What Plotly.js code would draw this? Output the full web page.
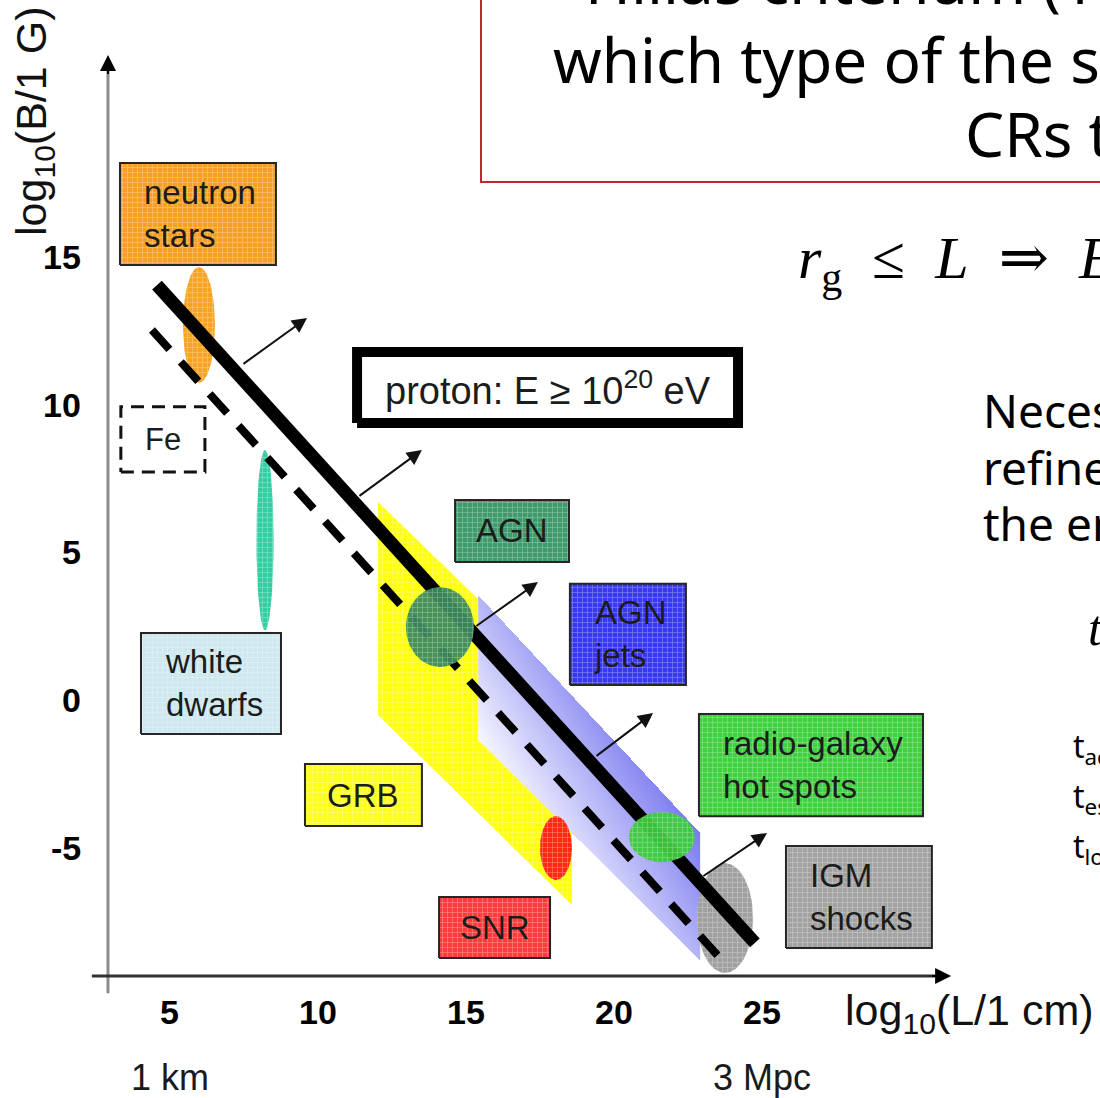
<!DOCTYPE html>
<html>
<head>
<meta charset="utf-8">
<script src="https://cdn.plot.ly/plotly-3.0.1.min.js"></script>
<style>
  html, body { margin: 0; padding: 0; background: #ffffff; }
  #chart { width: 1100px; height: 1098px; }
</style>
</head>
<body>
<div id="chart"></div>
<script>
// ---------------- Hillas diagram: log10(L / 1 cm) vs log10(B / 1 G) ----------------

// Axis ticks and scale notes
const xTickVals = [5, 10, 15, 20, 25];
const yTickVals = [15, 10, 5, 0, -5];
const scaleNotes = ['1 km', '3 Mpc'];
const scaleNoteL = [5, 25];

// Source classes shown as labelled boxes (extent in log10 L and log10 B)
const boxLabels = ['neutron<br>stars', 'white<br>dwarfs', 'AGN', 'AGN<br>jets', 'GRB', 'SNR', 'radio-galaxy<br>hot spots', 'IGM<br>shocks'];
const boxL0 = [3.31, 4.02, 14.63, 18.51, 9.56, 14.09, 22.87, 25.81];
const boxL1 = [8.58, 8.75, 18.48, 22.43, 13.51, 17.84, 30.44, 30.74];
const boxB0 = [14.72, -1.15, 4.67, 0.51, -4.26, -8.73, -3.93, -8.39];
const boxB1 = [18.17, 2.27, 6.77, 3.93, -2.17, -6.67, -0.47, -4.94];
const boxColors = ['#f5a024', '#cde8ee', '#3f9b6c', '#3838f2', '#ffff1e', '#ff3c3c', '#40d040', '#a2a2a2'];

// Source classes shown as ellipses (centre and half-extent)
const ellNames = ['neutron stars', 'white dwarfs', 'AGN', 'SNR', 'radio-galaxy hot spots', 'IGM shocks'];
const ellL = [5.98, 8.21, 14.12, 18.04, 21.62, 23.75];
const ellB = [12.69, 5.41, 2.47, -5.01, -4.64, -7.38];
const ellDL = [0.54, 0.29, 1.15, 0.54, 1.11, 0.95];
const ellDB = [1.96, 3.05, 1.35, 1.08, 0.85, 1.86];
const ellColors = ['#f7a325', '#33cfa2', '#3a8a5c', '#ff2a10', '#3dcc3d', '#a0a0a0'];
const ellAbove = [false, false, true, false, true, false];

// GRB band (vertical sides at grbL)
const grbL = [12.03, 18.58];
const grbTop = [6.70, 0.34];
const grbBot = [-0.51, -6.94];

// AGN-jet band (vertical sides at jetL)
const jetL = [15.41, 22.91];
const jetTop = [3.55, -4.50];
const jetBot = [-1.35, -8.80];

// Maximum-energy conditions: proton (solid) and iron (dashed)
const protonL = [4.56, 24.76];
const protonB = [14.04, -8.22];
const ironL = [4.39, 23.58];
const ironB = [12.52, -8.73];

// Arrows pointing to the allowed side of the proton line
const arrowL0 = [7.43, 11.35, 15.30, 19.36, 22.97];
const arrowB0 = [11.34, 6.87, 2.47, -1.93, -5.99];
const arrowL1 = [9.63, 13.51, 17.43, 21.32, 25.17];
const arrowB1 = [12.93, 8.46, 3.99, -0.44, -4.50];

// Legend boxes for the two conditions
const feBoxL = [3.34, 6.18];
const feBoxB = [7.72, 9.92];
const protonBoxL = [11.32, 24.19];
const protonBoxB = [9.37, 11.78];

// ---------------- frame ----------------
const W = 1100, H = 1098;
const X_RANGE = [-0.743, 36.419];
const Y_RANGE = [-13.469, 23.689];
const AXIS_L = 2.905, AXIS_B_LOW = -9.92, AXIS_B_TOP = 21.83;
const AXIS_X_B = -9.34, AXIS_X_L0 = 2.36, AXIS_X_L1 = 31.39;

const SANS = 'Liberation Sans, Arial, sans-serif';
const SLIDE = 'Noto Sans, DejaVu Sans, sans-serif';
const SERIF = 'Liberation Serif, DejaVu Serif, serif';
const NB = '\u00A0';

const px = v => v / W;
const py = v => 1 - v / H;

function lerp(xs, ys, x) {
  return ys[0] + (ys[1] - ys[0]) * (x - xs[0]) / (xs[1] - xs[0]);
}
function mix(hex, t) {
  const n = parseInt(hex.slice(1), 16);
  const c = [(n >> 16) & 255, (n >> 8) & 255, n & 255].map(v => Math.round(v + (255 - v) * t));
  return 'rgb(' + c.join(',') + ')';
}
function textured(xs, ys, color, lineW, lineC, opacity) {
  return {
    type: 'scatter', mode: 'lines', x: xs, y: ys,
    fill: 'toself', fillcolor: color,
    fillpattern: { shape: '+', size: 5, solidity: 0.25, bgcolor: color, fgcolor: mix(color, 0.45), fgopacity: 0.8, fillmode: 'replace' },
    line: { width: lineW, color: lineC || color },
    opacity: opacity === undefined ? 1 : opacity,
    hoverinfo: 'skip', showlegend: false
  };
}
function ellipseTrace(i) {
  const xs = [], ys = [];
  for (let k = 0; k <= 96; k++) {
    const a = 2 * Math.PI * k / 96;
    xs.push(ellL[i] + ellDL[i] * Math.cos(a));
    ys.push(ellB[i] + ellDB[i] * Math.sin(a));
  }
  const t = textured(xs, ys, ellColors[i], 0, null, ellAbove[i] ? 0.94 : 1);
  t.name = ellNames[i];
  return t;
}

const traces = [];

// AGN-jet band: blue wash, light at the lower-left edge, dark at the upper-right
(function () {
  const dx = 1 / 29.6, dy = 1 / 29.55;
  const xs = [], ys = [], z = [];
  for (let x = jetL[0] + dx / 2; x < jetL[1]; x += dx) xs.push(x);
  const yMin = Math.min(...jetBot), yMax = Math.max(...jetTop);
  for (let y = yMin + dy / 2; y < yMax; y += dy) ys.push(y);
  const wash = (x, y) => 29.6 * x + 18.0 * y;
  const w0 = wash(jetL[0], jetBot[0]), w1 = wash(jetL[1], jetTop[1]);
  for (const y of ys) {
    const row = [];
    for (const x of xs) {
      const top = lerp(jetL, jetTop, x), bot = lerp(jetL, jetBot, x);
      row.push(y <= top && y >= bot ? (wash(x, y) - w0) / (w1 - w0) : null);
    }
    z.push(row);
  }
  traces.push({
    type: 'heatmap', x: xs, y: ys, z: z, zmin: 0, zmax: 1, zsmooth: false,
    colorscale: [[0, '#f6f6ff'], [0.5, '#b8b8f8'], [1, '#7a7af0']],
    showscale: false, hoverinfo: 'skip'
  });
})();

// GRB band: the part not covered by the jet band
(function () {
  const xs = [grbL[0], jetL[0], jetL[0], grbL[1], grbL[1], grbL[0], grbL[0]];
  const ys = [grbTop[0], lerp(grbL, grbTop, jetL[0]), jetBot[0], lerp(jetL, jetBot, grbL[1]), grbBot[1], grbBot[0], grbTop[0]];
  traces.push(textured(xs, ys, '#ffff10', 0));
})();

// ellipses lying under the condition lines
ellNames.forEach((_, i) => { if (!ellAbove[i]) traces.push(ellipseTrace(i)); });

// labelled boxes
boxLabels.forEach((_, i) => {
  const xs = [boxL0[i], boxL1[i], boxL1[i], boxL0[i], boxL0[i]];
  const ys = [boxB0[i], boxB0[i], boxB1[i], boxB1[i], boxB0[i]];
  traces.push(textured(xs, ys, boxColors[i], 2, '#262626'));
});

// Fe legend box (dashed)
traces.push({
  type: 'scatter', mode: 'lines',
  x: [feBoxL[0], feBoxL[1], feBoxL[1], feBoxL[0], feBoxL[0]],
  y: [feBoxB[0], feBoxB[0], feBoxB[1], feBoxB[1], feBoxB[0]],
  line: { color: '#111', width: 3, dash: '13px,8px' },
  hoverinfo: 'skip', showlegend: false
});

// proton legend box (heavy frame)
traces.push({
  type: 'scatter', mode: 'lines',
  x: [protonBoxL[0], protonBoxL[1], protonBoxL[1], protonBoxL[0], protonBoxL[0]],
  y: [protonBoxB[0], protonBoxB[0], protonBoxB[1], protonBoxB[1], protonBoxB[0]],
  fill: 'toself', fillcolor: '#ffffff',
  line: { color: '#000', width: 10 },
  hoverinfo: 'skip', showlegend: false
});

// condition lines
traces.push({
  type: 'scatter', mode: 'lines', x: ironL, y: ironB,
  line: { color: '#000', width: 8, dash: '26px,17px' }, hoverinfo: 'skip', showlegend: false
});
traces.push({
  type: 'scatter', mode: 'lines', x: protonL, y: protonB,
  line: { color: '#000', width: 13 }, hoverinfo: 'skip', showlegend: false
});

// ellipses drawn over the lines
ellNames.forEach((_, i) => { if (ellAbove[i]) traces.push(ellipseTrace(i)); });

// axes
traces.push({
  type: 'scatter', mode: 'lines', x: [AXIS_L, AXIS_L], y: [AXIS_B_LOW, AXIS_B_TOP - 0.4],
  line: { color: '#8c8c8c', width: 3 }, hoverinfo: 'skip', showlegend: false
});
traces.push({
  type: 'scatter', mode: 'lines', x: [AXIS_X_L0, AXIS_X_L1 - 0.4], y: [AXIS_X_B, AXIS_X_B],
  line: { color: '#303030', width: 3 }, hoverinfo: 'skip', showlegend: false
});

// ---------------- annotations ----------------
const ann = [];

// axis arrowheads
ann.push({ x: AXIS_L, y: AXIS_B_TOP, ax: AXIS_L, ay: AXIS_B_TOP - 0.7, xref: 'x', yref: 'y', axref: 'x', ayref: 'y',
  showarrow: true, arrowhead: 2, arrowsize: 1.6, arrowwidth: 2, arrowcolor: '#000', text: '' });
ann.push({ x: AXIS_X_L1, y: AXIS_X_B, ax: AXIS_X_L1 - 0.7, ay: AXIS_X_B, xref: 'x', yref: 'y', axref: 'x', ayref: 'y',
  showarrow: true, arrowhead: 2, arrowsize: 1.6, arrowwidth: 2, arrowcolor: '#000', text: '' });

// arrows off the proton line
arrowL0.forEach((_, i) => {
  ann.push({ x: arrowL1[i], y: arrowB1[i], ax: arrowL0[i], ay: arrowB0[i], xref: 'x', yref: 'y', axref: 'x', ayref: 'y',
    showarrow: true, arrowhead: 2, arrowsize: 1.5, arrowwidth: 2, arrowcolor: '#111', text: '' });
});

// tick labels
xTickVals.forEach(v => ann.push({ x: v, y: -10.56, xref: 'x', yref: 'y', text: '<b>' + v + '</b>', showarrow: false,
  xanchor: 'center', yanchor: 'middle', font: { family: SANS, size: 34, color: '#000' } }));
yTickVals.forEach(v => ann.push({ x: 2.06, y: v, xref: 'x', yref: 'y', text: '<b>' + v + '</b>', showarrow: false,
  xanchor: 'right', yanchor: 'middle', font: { family: SANS, size: 34, color: '#000' } }));
scaleNotes.forEach((t, i) => ann.push({ x: scaleNoteL[i], y: -12.76, xref: 'x', yref: 'y', text: t, showarrow: false,
  xanchor: 'center', yanchor: 'middle', font: { family: SANS, size: 36, color: '#1a1a1a' } }));

// axis titles
ann.push({ x: px(843), y: py(1013), xref: 'paper', yref: 'paper', text: 'log<sub>10</sub>(L/1 cm)', showarrow: false,
  xanchor: 'left', yanchor: 'middle', font: { family: SANS, size: 43, color: '#111' } });
ann.push({ x: px(34), y: py(122), xref: 'paper', yref: 'paper', text: 'log<sub>10</sub>(B/1 G)', showarrow: false,
  textangle: -90, xanchor: 'center', yanchor: 'middle', font: { family: SANS, size: 43, color: '#111' } });

// box labels
boxLabels.forEach((t, i) => {
  const multi = t.indexOf('<br>') >= 0;
  ann.push({
    x: multi ? boxL0[i] + 0.75 : (boxL0[i] + boxL1[i]) / 2, y: (boxB0[i] + boxB1[i]) / 2,
    xref: 'x', yref: 'y', text: t, showarrow: false, align: 'left',
    xanchor: multi ? 'left' : 'center', yanchor: 'middle',
    font: { family: SANS, size: 33, color: '#1c1c1c' }
  });
});
ann.push({ x: (feBoxL[0] + feBoxL[1]) / 2, y: (feBoxB[0] + feBoxB[1]) / 2, xref: 'x', yref: 'y', text: 'Fe',
  showarrow: false, xanchor: 'center', yanchor: 'middle', font: { family: SANS, size: 31, color: '#1c1c1c' } });
ann.push({ x: (protonBoxL[0] + protonBoxL[1]) / 2, y: (protonBoxB[0] + protonBoxB[1]) / 2, xref: 'x', yref: 'y',
  text: 'proton: E ≥ 10<sup>20</sup> eV', showarrow: false, xanchor: 'center', yanchor: 'middle',
  font: { family: SANS, size: 38, color: '#1c1c1c' } });

// slide text around the diagram
const slideText = [
  { t: 'Hillas criterium (1984):', x: 583, y: -20, s: 62, f: SLIDE },
  { t: 'which type of the sources can', x: 551, y: 59, s: 62, f: SLIDE },
  { t: 'CRs to the highest energies?', x: 963, y: 133, s: 62, f: SLIDE },
  { t: '<i>r</i><sub>g</sub>' + NB + NB + '≤' + NB + NB + '<i>L</i>' + NB + NB + '⇒' + NB + NB + '<i>E</i>', x: 796, y: 263, s: 60, f: SERIF },
  { t: 'Necessary condition,', x: 981, y: 410, s: 46, f: SLIDE },
  { t: 'refined by taking into', x: 981, y: 467, s: 46, f: SLIDE },
  { t: 'the energy losses:', x: 981, y: 523, s: 46, f: SLIDE },
  { t: '<i>t</i><sub>acc</sub>', x: 1086, y: 632, s: 50, f: SERIF },
  { t: 't<sub>acc</sub>', x: 1071, y: 748, s: 32, f: SLIDE },
  { t: 't<sub>esc</sub>', x: 1071, y: 798, s: 32, f: SLIDE },
  { t: 't<sub>loss</sub>', x: 1071, y: 848, s: 32, f: SLIDE }
];
slideText.forEach(o => ann.push({ x: px(o.x), y: py(o.y), xref: 'paper', yref: 'paper', text: o.t, showarrow: false,
  xanchor: 'left', yanchor: 'middle', font: { family: o.f, size: o.s, color: '#000' } }));

const layout = {
  width: W, height: H,
  margin: { l: 0, r: 0, t: 0, b: 0 },
  paper_bgcolor: '#ffffff', plot_bgcolor: '#ffffff',
  showlegend: false,
  xaxis: { range: X_RANGE, visible: false, fixedrange: true },
  yaxis: { range: Y_RANGE, visible: false, fixedrange: true },
  shapes: [
    { type: 'rect', xref: 'paper', yref: 'paper', x0: px(481), x1: 1.2, y0: py(182), y1: 1.2,
      line: { color: '#c0282d', width: 2 }, fillcolor: 'rgba(0,0,0,0)', layer: 'above' }
  ],
  annotations: ann
};

Plotly.newPlot('chart', traces, layout, { staticPlot: true, displayModeBar: false });
</script>
</body>
</html>
